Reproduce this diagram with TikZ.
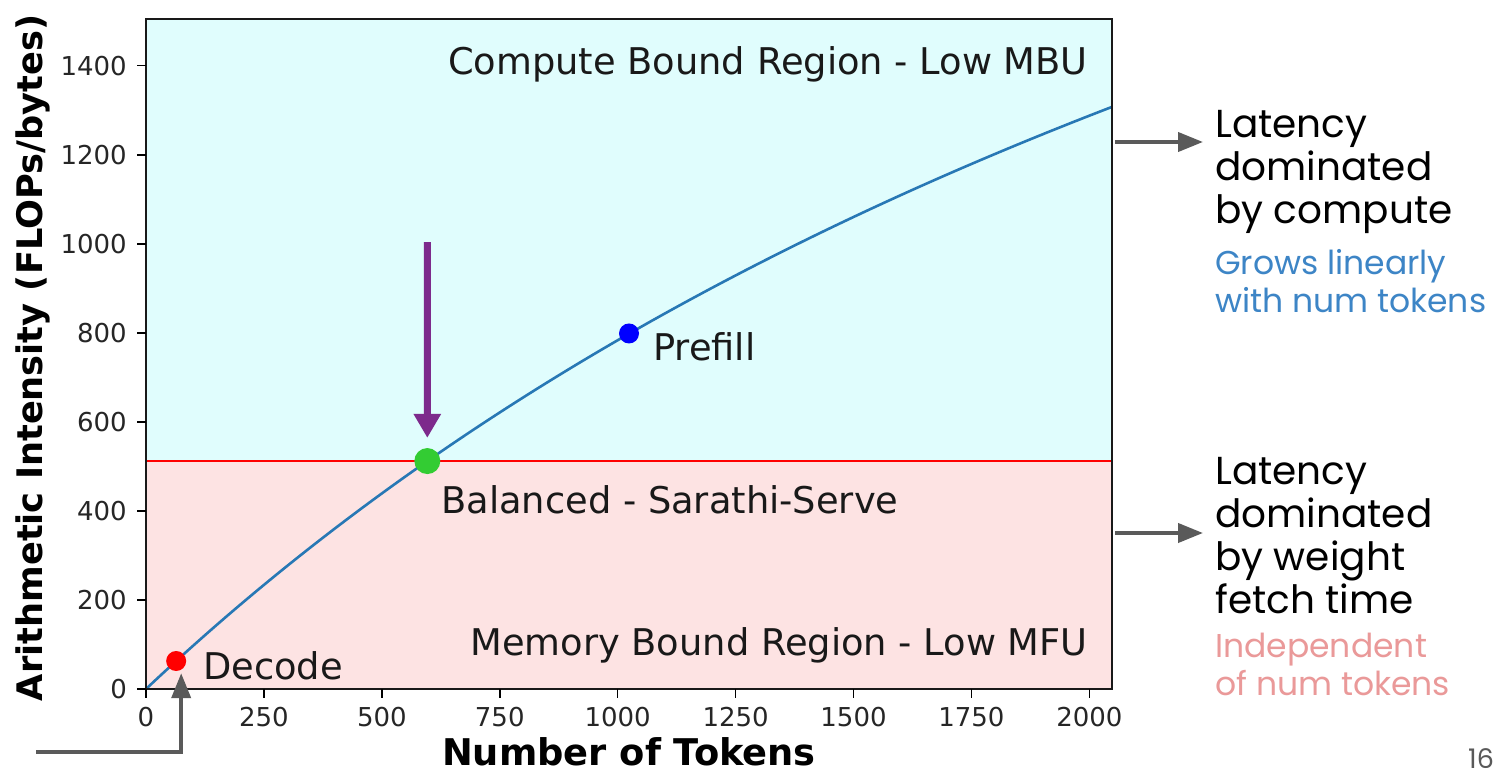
\documentclass[tikz,border=0pt]{standalone}
\usepackage{fontspec}
\setmainfont{DejaVu Sans}
\newfontfamily\slidefont{Poppins}
\usetikzlibrary{arrows.meta}
\definecolor{computebg}{HTML}{E0FDFD}
\definecolor{memorybg}{HTML}{FDE3E3}
\definecolor{curveblue}{HTML}{2878B5}
\definecolor{arrowgrey}{HTML}{5A5A5A}
\definecolor{balgreen}{HTML}{33CC33}
\definecolor{arrowpurple}{HTML}{7D2A8C}
\definecolor{growblue}{HTML}{3D85C6}
\definecolor{flatpink}{HTML}{EA9999}
\begin{document}
\begin{tikzpicture}[x=1pt,y=-1pt,
  tick/.style={line width=1.5pt, black},
  ticklabel/.style={font=\fontsize{26}{26}\selectfont, text=black!85, inner sep=0pt},
  plottext/.style={font=\fontsize{36.8}{36.8}\selectfont, text=black!90, inner sep=0pt},
  axislabel/.style={font=\fontsize{36.8}{36.8}\selectfont\bfseries, inner sep=0pt},
  dot/.style={circle, inner sep=0pt, draw=none},
  callout/.style={draw=arrowgrey, line width=4pt, -{Triangle[length=25pt,width=19pt]}},
  sidetext/.style={font=\slidefont\fontsize{39}{43}\selectfont, align=left, inner sep=0pt, anchor=base west},
  subtext/.style={font=\slidefont\fontsize{33}{38}\selectfont, align=left, inner sep=0pt, anchor=base west}
]
\useasboundingbox (0,0) rectangle (1493,770);
\fill[white] (0,0) rectangle (1493,770);

% data axes: tokens 0..2048, intensity 0..1505
\begin{scope}[shift={(146,689)}, x=0.47168pt, y=0.4452pt]
  \fill[computebg] (0,512) rectangle (2048,1505);
  \fill[memorybg] (0,0) rectangle (2048,512);
  \draw[red, line width=2.2pt] (0,512) -- (2048,512);
  \draw[curveblue, line width=2.6pt] plot[domain=0:2048, samples=120, smooth] (\x, {\x/(1+\x/3616)});
  \draw[line width=1.8pt, black!90] (0,0) rectangle (2048,1505);
  \foreach \t in {0,250,...,2000} {
    \draw[tick] (\t,0) -- ++(0,-9pt);
    \node[ticklabel, anchor=north] (xt\t) at ([yshift=-18pt]\t,0) {\t};
  }
  \foreach \t in {0,200,...,1400} {
    \draw[tick] (0,\t) -- ++(-9pt,0);
    \node[ticklabel, anchor=east] (yt\t) at ([xshift=-19pt]0,\t) {\t};
  }
  \node[dot, fill=red, minimum size=20pt] (decode) at (64,62.9) {};
  \node[dot, fill=blue, minimum size=20pt] (prefill) at (1024,798.6) {};
  \node[dot, fill=balgreen, minimum size=26pt] (balanced) at (596.4,512) {};
\end{scope}

% labels inside the plot
\node[plottext, anchor=base east] (computelbl) at (1088,75) {Compute Bound Region - Low MBU};
\node[plottext, anchor=base east] (memorylbl) at (1088,655) {Memory Bound Region - Low MFU};
\node[plottext, anchor=base west] (ballbl) at (441,513) {Balanced - Sarathi-Serve};
\node[plottext, anchor=base west] (prefilllbl) at (653,360) {Prefill};
\node[plottext, anchor=base west] (decodelbl) at (203,679) {Decode};

% axis titles
\node[axislabel, anchor=base] (xlabel) at (629,765) {Number of Tokens};
\node[axislabel, anchor=base, rotate=90, font=\fontsize{35.2}{35.2}\selectfont\bfseries] (ylabel) at (42,358) {Arithmetic Intensity (FLOPs/bytes)};

% pointer to the balanced point
\coordinate (ptop) at (427.3,242);
\draw[draw=arrowpurple, line width=7pt, -{Triangle[length=24pt,width=26pt]}] (ptop) -- ([yshift=10pt]balanced.north);

% pointer to the decode point
\coordinate (dstart) at (36,752);
\draw[callout] (dstart) -| ([xshift=5pt,yshift=-2pt]decode.south);

% side notes
\coordinate (cstart) at (1115,142);
\coordinate (cend) at (1203,142);
\draw[callout] (cstart) -- (cend);
\coordinate (mstart) at (1115,533);
\coordinate (mend) at (1203,533);
\draw[callout] (mstart) -- (mend);

% multi-line notes are anchored at the baseline of their last line
\node[sidetext] (computenote) at (1215,223) {Latency\\dominated\\by compute};
\node[subtext, text=growblue] (computesub) at (1215,312) {Grows linearly\\with num tokens};
\node[sidetext] (memorynote) at (1215,613) {Latency\\dominated\\by weight\\fetch time};
\node[subtext, text=flatpink] (memorysub) at (1215,695) {Independent\\of num tokens};
\node[font=\slidefont\fontsize{27}{27}\selectfont, text=black!65, anchor=base west, inner sep=0pt] (pagenum) at (1468,768) {16};
\end{tikzpicture}
\end{document}
